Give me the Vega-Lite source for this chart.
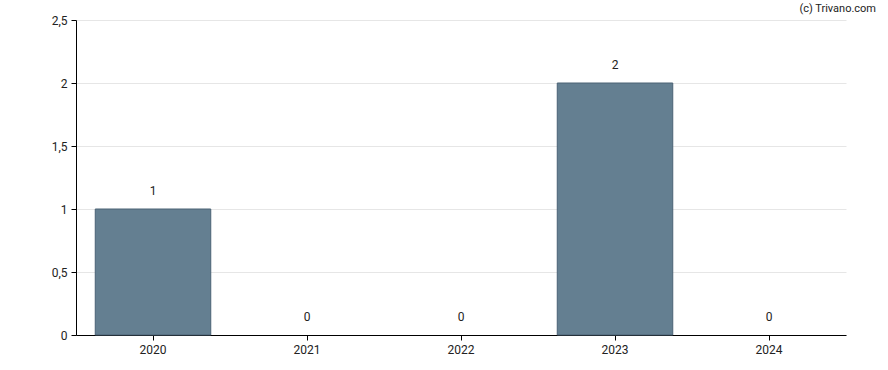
{
  "$schema": "https://vega.github.io/schema/vega-lite/v6.json",
  "width": 770,
  "height": 315,
  "autosize": {"type": "none"},
  "padding": {"left": 76, "top": 20, "right": 42, "bottom": 35},
  "background": "white",
  "title": {
    "text": "(c) Trivano.com",
    "anchor": "end",
    "orient": "top",
    "frame": "group",
    "fontSize": 11,
    "fontWeight": "normal",
    "font": "Roboto",
    "color": "#222222",
    "dx": 30,
    "dy": 8,
    "offset": 8
  },
  "data": {
    "values": [
      {"year": "2020", "value": 1},
      {"year": "2021", "value": 0},
      {"year": "2022", "value": 0},
      {"year": "2023", "value": 2},
      {"year": "2024", "value": 0}
    ]
  },
  "config": {
    "view": {"stroke": null},
    "font": "Roboto",
    "axis": {
      "labelFont": "Roboto",
      "labelFontSize": 12,
      "labelColor": "#222222",
      "domainColor": "#000000",
      "tickColor": "#000000",
      "tickSize": 5,
      "gridColor": "#e6e6e6",
      "title": null
    }
  },
  "encoding": {
    "x": {
      "field": "year",
      "type": "ordinal",
      "scale": {"paddingInner": 0.25, "paddingOuter": 0.125},
      "axis": {"labelAngle": 0, "grid": false, "labelPadding": 4, "title": null}
    },
    "y": {
      "field": "value",
      "type": "quantitative",
      "scale": {"domain": [0, 2.5], "nice": false},
      "axis": {
        "values": [0, 0.5, 1, 1.5, 2, 2.5],
        "labelExpr": "replace(format(datum.value, ''), '.', ',')",
        "grid": true,
        "labelPadding": 4,
        "title": null
      }
    }
  },
  "layer": [
    {
      "transform": [{"filter": "datum.value > 0"}],
      "mark": {"type": "bar", "fill": "#647f91", "stroke": "#4a6275", "strokeWidth": 1}
    },
    {
      "mark": {"type": "text", "dy": -18, "fontSize": 12, "color": "#222222", "font": "Roboto"},
      "encoding": {"text": {"field": "value", "type": "quantitative"}}
    }
  ]
}
